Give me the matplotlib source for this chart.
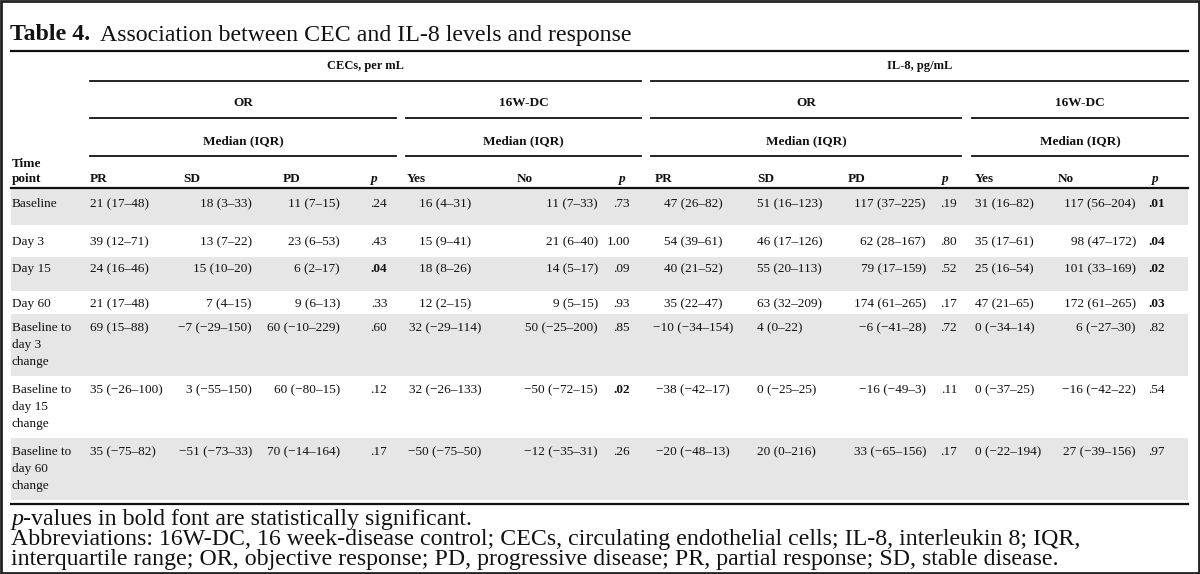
import matplotlib
matplotlib.use('Agg')
import matplotlib.pyplot as plt
from matplotlib.patches import Rectangle

plt.rcParams['font.family'] = ['Liberation Serif', 'DejaVu Serif']

# Текст таблицы
title_bold = 'Table 4.'
title_rest = 'Association between CEC and IL-8 levels and response'

groups = ['CECs, per mL', 'IL-8, pg/mL']
subgroups = ['OR', '16W-DC', 'OR', '16W-DC']
col_names = ['PR', 'SD', 'PD', 'p', 'Yes', 'No', 'p',
             'PR', 'SD', 'PD', 'p', 'Yes', 'No', 'p']

time_points = ['Baseline', 'Day 3', 'Day 15', 'Day 60',
               'Baseline to\nday 3\nchange',
               'Baseline to\nday 15\nchange',
               'Baseline to\nday 60\nchange']

# Значения: медиана (IQR) и p
cec_pr = ['21 (17–48)', '39 (12–71)', '24 (16–46)', '21 (17–48)',
          '69 (15–88)', '35 (−26–100)', '35 (−75–82)']
cec_sd = ['18 (3–33)', '13 (7–22)', '15 (10–20)', '7 (4–15)',
          '−7 (−29–150)', '3 (−55–150)', '−51 (−73–33)']
cec_pd = ['11 (7–15)', '23 (6–53)', '6 (2–17)', '9 (6–13)',
          '60 (−10–229)', '60 (−80–15)', '70 (−14–164)']
cec_or_p = ['.24', '.43', '.04', '.33', '.60', '.12', '.17']
cec_yes = ['16 (4–31)', '15 (9–41)', '18 (8–26)', '12 (2–15)',
           '32 (−29–114)', '32 (−26–133)', '−50 (−75–50)']
cec_no = ['11 (7–33)', '21 (6–40)', '14 (5–17)', '9 (5–15)',
          '50 (−25–200)', '−50 (−72–15)', '−12 (−35–31)']
cec_dc_p = ['.73', '1.00', '.09', '.93', '.85', '.02', '.26']

il8_pr = ['47 (26–82)', '54 (39–61)', '40 (21–52)', '35 (22–47)',
          '−10 (−34–154)', '−38 (−42–17)', '−20 (−48–13)']
il8_sd = ['51 (16–123)', '46 (17–126)', '55 (20–113)', '63 (32–209)',
          '4 (0–22)', '0 (−25–25)', '20 (0–216)']
il8_pd = ['117 (37–225)', '62 (28–167)', '79 (17–159)', '174 (61–265)',
          '−6 (−41–28)', '−16 (−49–3)', '33 (−65–156)']
il8_or_p = ['.19', '.80', '.52', '.17', '.72', '.11', '.17']
il8_yes = ['31 (16–82)', '35 (17–61)', '25 (16–54)', '47 (21–65)',
           '0 (−34–14)', '0 (−37–25)', '0 (−22–194)']
il8_no = ['117 (56–204)', '98 (47–172)', '101 (33–169)', '172 (61–265)',
          '6 (−27–30)', '−16 (−42–22)', '27 (−39–156)']
il8_dc_p = ['.01', '.04', '.02', '.03', '.82', '.54', '.97']

# Жирным выделены значимые p
cec_or_bold = [0, 0, 1, 0, 0, 0, 0]
cec_dc_bold = [0, 0, 0, 0, 0, 1, 0]
il8_or_bold = [0, 0, 0, 0, 0, 0, 0]
il8_dc_bold = [1, 1, 1, 1, 0, 0, 0]

footnote_1 = '-values in bold font are statistically significant.'
footnote_2 = ('Abbreviations: 16W-DC, 16 week-disease control; CECs, circulating '
              'endothelial cells; IL-8, interleukin 8; IQR,')
footnote_3 = ('interquartile range; OR, objective response; PD, progressive '
              'disease; PR, partial response; SD, stable disease.')

columns = [cec_pr, cec_sd, cec_pd, cec_or_p, cec_yes, cec_no, cec_dc_p,
           il8_pr, il8_sd, il8_pd, il8_or_p, il8_yes, il8_no, il8_dc_p]
bold_cols = {3: cec_or_bold, 6: cec_dc_bold, 10: il8_or_bold, 13: il8_dc_bold}

# Разметка (в пикселях)
W, H = 1200, 574
L, R = 11, 1188
col_anchor = [(90, 'left'), (252, 'right'), (340, 'right'), (387, 'right'),
              (445, 'center'), (598, 'right'), (630, 'right'),
              (693, 'center'), (757, 'left'), (926, 'right'), (957, 'right'),
              (975, 'left'), (1136, 'right'), (1165, 'right')]
head_x = [90, 183, 283, 371, 407, 517, 619, 655, 757, 848, 942, 975, 1058, 1152]
group_span = [(90, 641), (651, 1188)]
sub_span = [(90, 396), (406, 641), (651, 961), (972, 1188)]
row_top = [189, 225, 257, 291, 314, 376, 438, 500]
row_text = [204, 242, 269, 304, 328, 390, 452]
line_step = 17
shade = [True, False, True, False, True, False, True]

fs_body = 9.5
fs_head = 9.5
fs_title = 17.2
fs_foot = 17.2
ink = '#111111'

fig = plt.figure(figsize=(W / 100, H / 100), dpi=100)
ax = fig.add_axes([0, 0, 1, 1])
ax.set_xlim(0, W)
ax.set_ylim(H, 0)
ax.axis('off')

# Рамка
ax.add_patch(Rectangle((1, 1), W - 2, H - 2, fill=False, lw=2, ec='#222222'))

# Заголовок
t = ax.text(L - 1, 35, title_bold, fontsize=fs_title, fontweight='bold', va='center', color=ink)
fig.canvas.draw()
x1 = t.get_window_extent().x1
ax.text(x1 + 10, 35, title_rest, fontsize=fs_title, va='center', color=ink)
ax.plot([L, R], [51, 51], color=ink, lw=1.6)

# Шапка
for name, (a, b) in zip(groups, group_span):
    ax.text((a + b) / 2, 66, name, fontsize=fs_head - 0.5, fontweight='bold',
            ha='center', va='center', color=ink)
    ax.plot([a, b], [81, 81], color=ink, lw=1.3)
for name, (a, b) in zip(subgroups, sub_span):
    ax.text((a + b) / 2, 103, name, fontsize=fs_head, fontweight='bold',
            ha='center', va='center', color=ink)
    ax.plot([a, b], [118, 118], color=ink, lw=1.3)
    ax.text((a + b) / 2, 141, 'Median (IQR)', fontsize=fs_head, fontweight='bold',
            ha='center', va='center', color=ink)
    ax.plot([a, b], [156, 156], color=ink, lw=1.3)

ax.text(L + 1, 164, 'Time', fontsize=fs_head, fontweight='bold', va='center', color=ink)
ax.text(L + 1, 179, 'point', fontsize=fs_head, fontweight='bold', va='center', color=ink)
for name, x in zip(col_names, head_x):
    ax.text(x, 179, name, fontsize=fs_head, fontweight='bold', va='center',
            style='italic' if name == 'p' else 'normal', color=ink)
ax.plot([L, R], [188, 188], color=ink, lw=1.6)

# Строки
for i, label in enumerate(time_points):
    if shade[i]:
        ax.add_patch(Rectangle((L, row_top[i]), R - L, row_top[i + 1] - row_top[i],
                               fc='#e6e6e6', ec='none', zorder=0))
    for k, line in enumerate(label.split('\n')):
        ax.text(L + 1, row_text[i] + k * line_step, line, fontsize=fs_body,
                va='center', color=ink)
    for j, col in enumerate(columns):
        x, ha = col_anchor[j]
        bold = j in bold_cols and bold_cols[j][i]
        ax.text(x, row_text[i], col[i], fontsize=fs_body, ha=ha, va='center',
                fontweight='bold' if bold else 'normal', color=ink)

ax.plot([L, R], [504, 504], color=ink, lw=1.6)

# Примечания
t = ax.text(L, 519, 'p', fontsize=fs_foot, style='italic', va='center', color=ink)
fig.canvas.draw()
x1 = t.get_window_extent().x1
ax.text(x1, 519, footnote_1, fontsize=fs_foot, va='center', color=ink)
ax.text(L, 540, footnote_2, fontsize=fs_foot, va='center', color=ink)
ax.text(L, 560, footnote_3, fontsize=fs_foot, va='center', color=ink)

fig.savefig('out.png', dpi=100)
